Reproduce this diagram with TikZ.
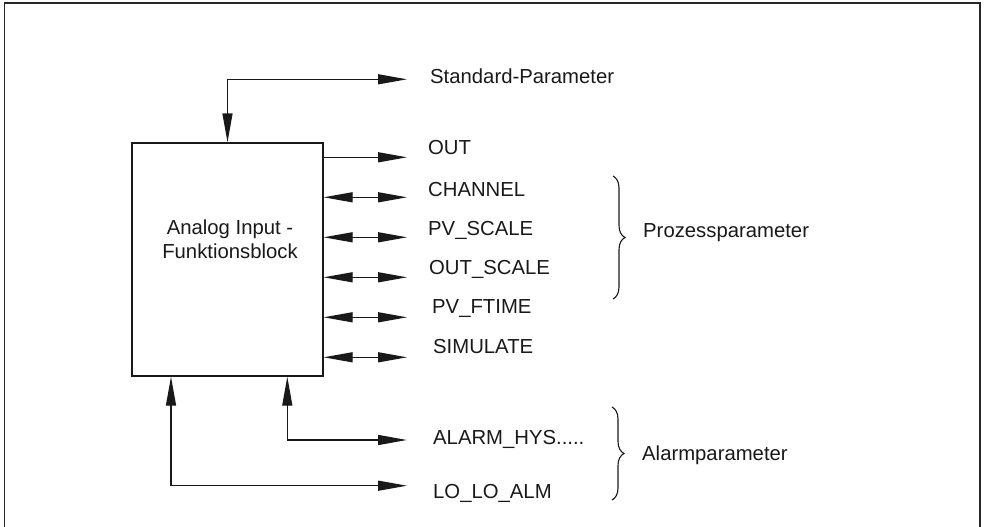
\documentclass[tikz,border=0pt]{standalone}
\usepackage{fontspec}
\setmainfont{Liberation Sans}
\usetikzlibrary{arrows.meta,decorations.pathreplacing}

\tikzset{
  conn/.style={line width=1.3pt, color=black!90},
  tipR/.style={conn, -{Triangle[length=29pt,width=10pt]}},
  tipB/.style={conn, {Triangle[length=29pt,width=10pt]}-{Triangle[length=29pt,width=10pt]}},
  lbl/.style={anchor=base west, inner sep=0pt, text=black!90, font=\fontsize{20.3}{25}\selectfont},
  grp/.style={decorate, decoration={brace, amplitude=12pt}, line width=1.1pt, color=black!90},
  block/.style={draw=black!90, line width=1.3pt, minimum width=191pt, minimum height=233pt, inner sep=0pt}
}

\begin{document}
\begin{tikzpicture}[x=1pt, y=-1pt]
\useasboundingbox (0,0) rectangle (985,527);

% outer frame (open at the bottom edge)
\draw[line width=1.8pt, color=black!85] (4.5,527) -- (4.5,3) -- (980,3) -- (980,527);

% function block
\node[block] (fb) at (227.5,259.5) {};
\node[inner sep=0pt, anchor=base, text=black!90, font=\fontsize{20.3}{25}\selectfont] (t1) at (230,234) {Analog Input -};
\node[inner sep=0pt, anchor=base, text=black!90, font=\fontsize{20.3}{25}\selectfont] (t2) at (230,258.5) {Funktionsblock};

% arrow end points
\coordinate (eStd) at (407,79.3);
\coordinate (eOut) at (407,157.3);
\coordinate (eCh) at (407,197.3);
\coordinate (ePv) at (407,237.3);
\coordinate (eOs) at (407,277.3);
\coordinate (eFt) at (407,317.3);
\coordinate (eSi) at (407,357.3);
\coordinate (eAl) at (407,440);
\coordinate (eLo) at (407,485.7);
\coordinate (jAl) at (287.3,440);
\coordinate (jLo) at (171,485.7);

% labels
\node[lbl] (lStd) at (430,84) {Standard-Parameter};
\node[lbl] (lOut) at (428,154.5) {OUT};
\node[lbl] (lCh) at (428,196) {CHANNEL};
\node[lbl] (lPv) at (428,235.5) {PV\_SCALE};
\node[lbl] (lOs) at (429,274.5) {OUT\_SCALE};
\node[lbl] (lFt) at (432,313.5) {PV\_FTIME};
\node[lbl] (lSi) at (433,353) {SIMULATE};
\node[lbl] (lAl) at (433,444.5) {ALARM\_HYS.....};
\node[lbl] (lLo) at (433,498) {LO\_LO\_ALM};

% connectors
\draw[tipB] (fb.north) |- (eStd);
\draw[tipR] (fb.east |- eOut) -- (eOut);
\draw[tipB] (fb.east |- eCh) -- (eCh);
\draw[tipB] (fb.east |- ePv) -- (ePv);
\draw[tipB] (fb.east |- eOs) -- (eOs);
\draw[tipB] (fb.east |- eFt) -- (eFt);
\draw[tipB] (fb.east |- eSi) -- (eSi);
\draw[tipB] (fb.south -| jAl) -- (jAl) -- (eAl);
\draw[tipB] (fb.south -| jLo) -- (jLo) -- (eLo);

% groups
\coordinate (bP1) at (613,176);
\coordinate (bP2) at (613,299);
\coordinate (bA1) at (612,407);
\coordinate (bA2) at (612,500);
\draw[grp] (bP1) -- (bP2);
\draw[grp] (bA1) -- (bA2);
\node[lbl] (gP) at (643,237.5) {Prozessparameter};
\node[lbl] (gA) at (642,460) {Alarmparameter};
\end{tikzpicture}
\end{document}
